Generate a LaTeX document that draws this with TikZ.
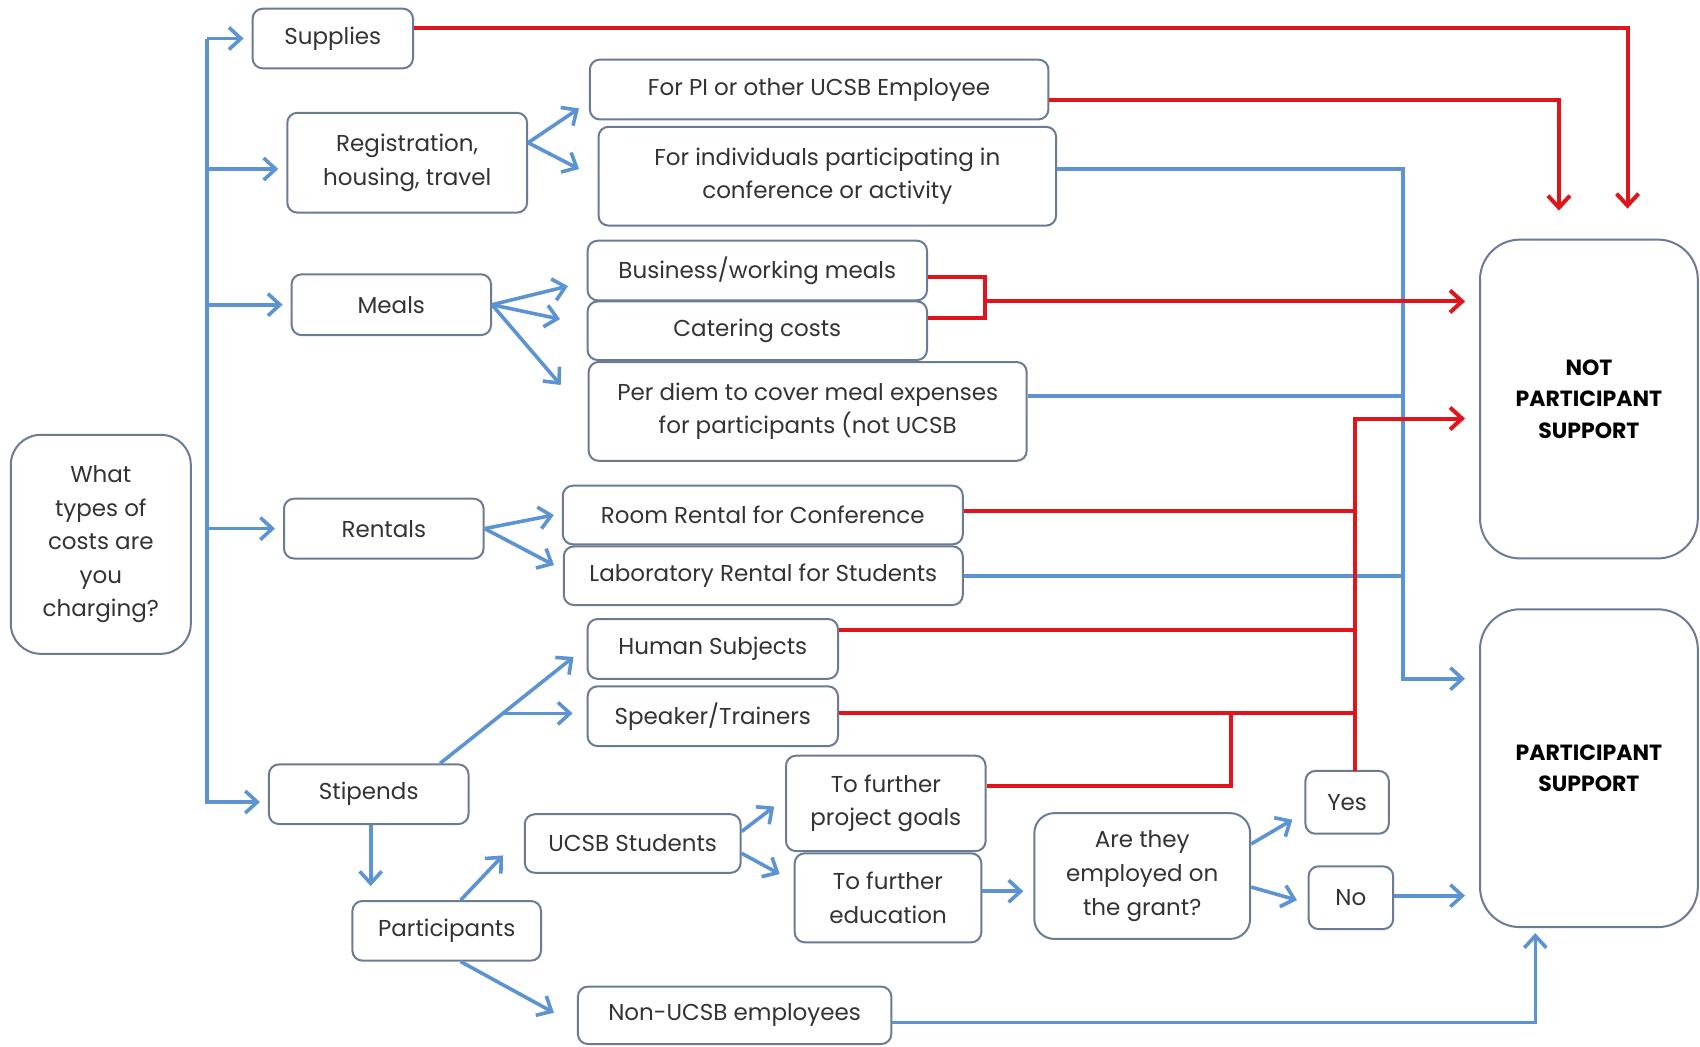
\documentclass[tikz,border=0pt]{standalone}
\usepackage{fontspec}
\setmainfont{Poppins}
\usepackage{xcolor}
\usetikzlibrary{arrows.meta,positioning,calc}
\definecolor{flow}{HTML}{5B93D3}
\definecolor{stop}{HTML}{E0151B}
\definecolor{edge}{HTML}{6A7B93}
\definecolor{ink}{HTML}{333333}

\begin{document}
\begin{tikzpicture}[x=0.5pt,y=-0.5pt,
  box/.style={draw=edge,line width=1pt,rounded corners=5pt,fill=white,align=center,
              inner sep=0pt,text=ink,font=\fontsize{11.5}{16.8}\selectfont},
  sz/.style 2 args={minimum width=#1pt,minimum height=#2pt},
  big/.style={box,rounded corners=20pt,text=black,font=\fontsize{11}{15.7}\selectfont\bfseries},
  bln/.style={draw=flow,line width=1.8pt},
  barr/.style={bln,-{Straight Barb[length=6pt,width=11pt]}},
  rln/.style={draw=stop,line width=2pt},
  rarr/.style={rln,-{Straight Barb[length=6pt,width=11pt]}}
]
\useasboundingbox (0,0) rectangle (1700,1046);

% start and first level
\node[box,sz={90}{109.5},rounded corners=15pt] (q) at (100.8,544.3) {What\\types of\\costs are\\you\\charging?};
\node[box,sz={80.2}{29.8}] (sup) at (332.8,38.5) {Supplies};
\node[box,sz={119.9}{49.9}] (reg) at (407.2,162.7) {Registration,\\housing, travel};
\node[box,sz={99.7}{30.4}] (meals) at (391.3,304.7) {Meals};
\node[box,sz={99.8}{29.9}] (rent) at (383.8,528.6) {Rentals};
\node[box,sz={99.8}{29.8}] (stip) at (368.7,794.2) {Stipends};
\node[box,sz={94.3}{29.8}] (part) at (446.7,930.8) {Participants};

% second level
\node[box,sz={229.3}{29.9}] (pi) at (819.1,89.5) {For PI or other UCSB Employee};
\node[box,sz={228.8}{49.4}] (indiv) at (827.3,176.2) {For individuals participating in\\conference or activity};
\node[box,sz={169.7}{29.8}] (bus) at (757.3,270.5) {Business/working meals};
\node[box,sz={169.7}{29.3}] (cat) at (757.3,330.7) {Catering costs};
\node[box,sz={219}{49.4}] (diem) at (807.7,411.4) {Per diem to cover meal expenses\\for participants (not UCSB};
\node[box,sz={200}{29.3}] (room) at (762.8,515) {Room Rental for Conference};
\node[box,sz={199.5}{29.3}] (lab) at (763.3,575.7) {Laboratory Rental for Students};
\node[box,sz={125.2}{29.9}] (hum) at (712.8,648.9) {Human Subjects};
\node[box,sz={125.2}{29.9}] (spk) at (712.8,716.2) {Speaker/Trainers};
\node[box,sz={107.9}{29.3}] (ucsb) at (632.7,843.5) {UCSB Students};
\node[box,sz={156.7}{28.7}] (non) at (734.6,1015.3) {Non-UCSB employees};
\node[box,sz={99.8}{47.7}] (goals) at (885.8,803.4) {To further\\project goals};
\node[box,sz={93.3}{44.5}] (edu) at (888,897.8) {To further\\education};
\node[box,sz={107.9}{62.9},rounded corners=10pt] (emp) at (1142.2,876) {Are they\\employed on\\the grant?};
\node[box,sz={41.7}{31.4}] (yes) at (1347.1,802.3) {Yes};
\node[box,sz={42.3}{31.4}] (no) at (1350.9,897.7) {No};

% outcomes
\node[big,sz={108.9}{159.4}] (nps) at (1588.9,399) {NOT\\PARTICIPANT\\SUPPORT};
\node[big,sz={108.9}{158.9}] (ps) at (1588.9,768.2) {PARTICIPANT\\SUPPORT};

% trunk
\coordinate (trunk) at (207,38.5);
\draw[barr,shorten >=4pt] (trunk) |- ([yshift=-3.9pt]stip.west);
\draw[barr,shorten >=4pt] (trunk) -- (sup);
\draw[barr,shorten >=4pt] ([yshift=-3.15pt]reg.west -| trunk) -- ([yshift=-3.15pt]reg.west);
\draw[barr,shorten >=4pt] (meals.west -| trunk) -- (meals.west);
\draw[barr,shorten >=4pt] (rent.west -| trunk) -- (rent.west);

% branches
\draw[barr] ([yshift=10pt]reg.east) -- ([shift={(-4.9pt,6pt)}]pi.south west);
\draw[barr] ([yshift=10pt]reg.east) -- ([shift={(-9.2pt,3.6pt)}]indiv.west);
\draw[barr] (meals.east) -- ([shift={(-9.3pt,7.6pt)}]bus.south west);
\draw[barr] (meals.east) -- ([shift={(-13.3pt,5.8pt)}]cat.west);
\draw[barr] (meals.east) -- ([shift={(-13.5pt,13.2pt)}]diem.west);
\draw[barr] (rent.east) -- ([xshift=-4pt]room.west);
\draw[barr] (rent.east) -- ([shift={(-4.4pt,5.3pt)}]lab.west);
\draw[barr] ([xshift=-14.7pt]stip.north east) -- coordinate[pos=0.47] (sb) ([shift={(-6.5pt,-4pt)}]hum.west);
\draw[barr,shorten >=7pt] (sb) -- (sb -| spk.west);
\draw[barr,shorten >=7pt] ([xshift=1pt]stip.south) -- ([xshift=1pt]stip.south |- part.north);
\draw[barr] ([xshift=7pt]part.north) -- ([shift={(-10.4pt,9.2pt)}]ucsb.south west);
\draw[barr] ([xshift=7pt]part.south) -- ([shift={(-11.5pt,1.3pt)}]non.west);
\draw[barr] ([yshift=6pt]ucsb.east) -- ([shift={(-5.4pt,-1.6pt)}]goals.west);
\draw[barr] ([yshift=-4.9pt]ucsb.east) -- ([shift={(-7pt,11.9pt)}]edu.west);
\draw[barr,shorten >=5pt] ([yshift=3.3pt]edu.east) -- ([yshift=3.3pt]edu.east -| emp.west);
\draw[barr] ([yshift=16pt]emp.east) -- ([shift={(-6pt,-8.7pt)}]yes.west);
\draw[barr] ([yshift=-5.5pt]emp.east) -- ([shift={(-5.3pt,-1.2pt)}]no.west);

% to participant support
\coordinate (bj) at (1403,678.7);
\draw[barr,shorten >=7pt] ([yshift=3.6pt]indiv.east) -| (bj) -- (bj -| ps.west);
\draw[bln] ([yshift=7.85pt]diem.east) -| (bj);
\draw[bln] (lab.east) -| (bj);
\draw[barr,shorten >=7pt] ([yshift=1pt]no.east) -- ([yshift=1pt]no.east -| ps.west);
\draw[barr,shorten >=2.5pt] ([yshift=-3.5pt]non.east) -| ([xshift=-26.8pt]ps.south);

% to not participant support
\draw[rarr,shorten >=15pt] ([yshift=5.15pt]sup.east) -| ([xshift=19.3pt]nps.north);
\draw[rarr,shorten >=14pt] ([yshift=-5.1pt]pi.east) -| ([xshift=-15pt]nps.north);
\coordinate (mj) at (984.5,301.4);
\draw[rln] ([yshift=-3pt]bus.east) -| (mj) |- ([yshift=6.5pt]cat.east);
\draw[rarr,shorten >=7pt] (mj) -- (mj -| nps.west);
\coordinate (rj) at (1355.3,770.9);
\coordinate (gj) at (1230.6,713.4);
\draw[rln] ([yshift=2.15pt]room.east) -| (rj);
\draw[rln] ([yshift=9.5pt]hum.east) -| (rj);
\draw[rln] ([yshift=1.4pt]spk.east) -| (rj);
\draw[rln] ([yshift=8.7pt]goals.east) -| (gj);
\draw[rarr,shorten >=7pt] (rj) |- ([yshift=-9.75pt]nps.west);
\end{tikzpicture}
\end{document}
